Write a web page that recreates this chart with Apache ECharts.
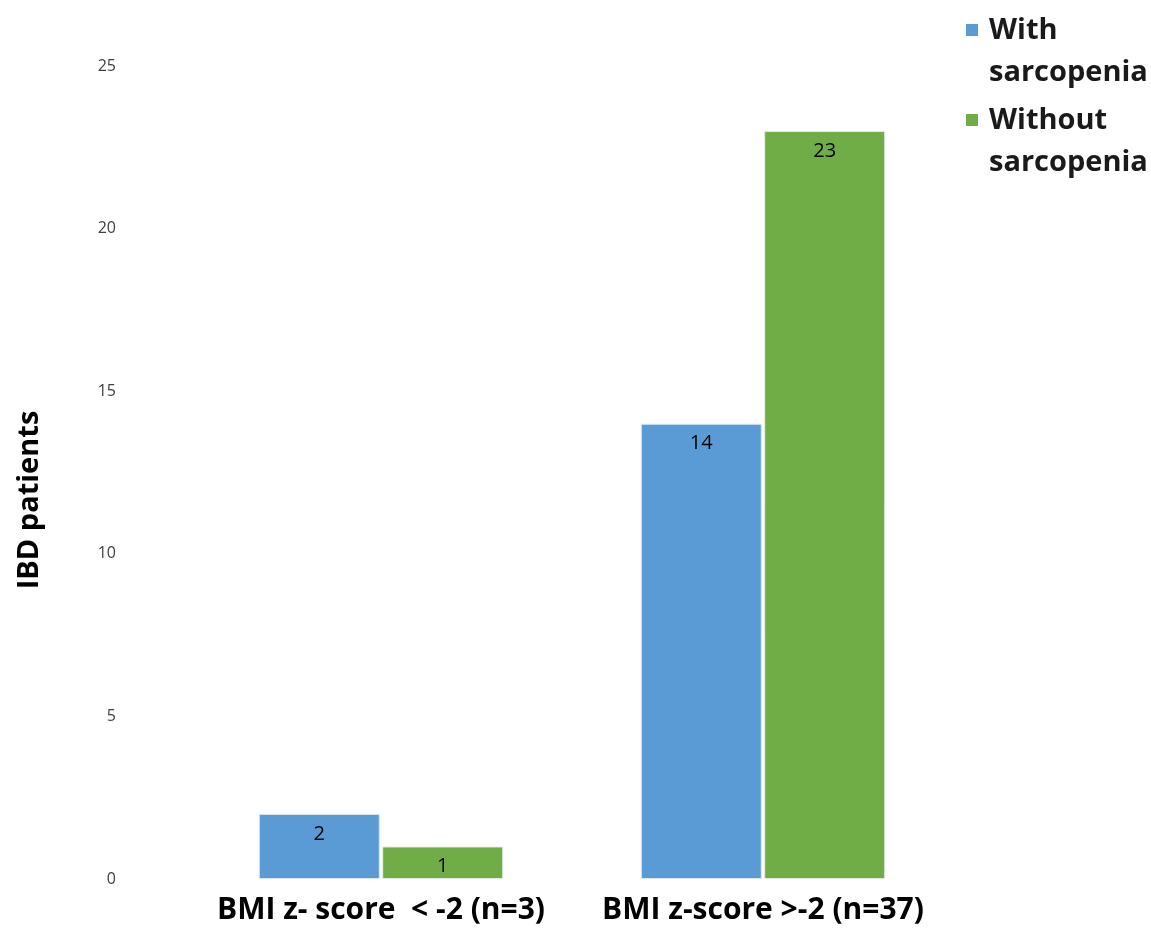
<!DOCTYPE html>
<html>
<head>
<meta charset="utf-8">
<script src="https://cdn.jsdelivr.net/npm/echarts@6/dist/echarts.min.js"></script>
<style>
  html, body { margin: 0; padding: 0; background: #fff; }
  #chart { width: 1151px; height: 930px; }
</style>
</head>
<body>
<div id="chart"></div>
<script>
// BMI groups and patient counts by sarcopenia status
const categories = ['BMI z- score  < -2 (n=3)', 'BMI z-score >-2 (n=37)'];
const withSarcopenia = [2, 14];
const withoutSarcopenia = [1, 23];
const seriesNames = ['With\nsarcopenia', 'Without\nsarcopenia'];
const seriesColors = ['#5B9BD5', '#70AD47'];
const yTicks = { min: 0, max: 25, interval: 5 };

const FONT = '"Open Sans", "Noto Sans", sans-serif';
const chart = echarts.init(document.getElementById('chart'));

const barLabel = {
  show: true,
  position: 'insideTop',
  distance: 10,
  color: '#000',
  fontSize: 20,
  fontFamily: FONT
};

// Legend drawn as graphic so the swatch sits beside the first text line
const legendGraphics = [];
seriesNames.forEach((name, i) => {
  const top = 10 + i * 90;
  legendGraphics.push({
    type: 'rect',
    left: 966, top: top + 14,
    shape: { width: 12, height: 12 },
    style: { fill: seriesColors[i] }
  });
  legendGraphics.push({
    type: 'text',
    left: 989, top: top,
    style: {
      text: name,
      font: 'bold 29px ' + FONT,
      lineHeight: 42,
      fill: '#1a1a1a'
    }
  });
});

chart.setOption({
  animation: false,
  grid: { left: 190, right: 197, top: 66, bottom: 51, containLabel: false },
  xAxis: {
    type: 'category',
    data: categories,
    axisLine: { show: false },
    axisTick: { show: false },
    axisLabel: {
      interval: 0,
      color: '#000',
      fontSize: 30,
      fontWeight: 'bold',
      fontFamily: FONT,
      margin: 16
    }
  },
  yAxis: {
    type: 'value',
    min: yTicks.min,
    max: yTicks.max,
    interval: yTicks.interval,
    axisLine: { show: false },
    axisTick: { show: false },
    splitLine: { show: false },
    axisLabel: {
      color: '#404040',
      fontSize: 16,
      fontFamily: FONT,
      margin: 74
    }
  },
  graphic: [
    {
      type: 'text',
      x: 30,
      y: 500,
      rotation: Math.PI / 2,
      style: {
        text: 'IBD patients',
        font: 'bold 29px ' + FONT,
        fill: '#000',
        align: 'center',
        verticalAlign: 'middle'
      }
    }
  ].concat(legendGraphics),
  series: [
    {
      name: seriesNames[0],
      type: 'bar',
      data: withSarcopenia,
      barWidth: 121,
      barGap: '2%',
      itemStyle: { color: seriesColors[0], borderColor: '#dce9f5', borderWidth: 1 },
      label: barLabel
    },
    {
      name: seriesNames[1],
      type: 'bar',
      data: withoutSarcopenia,
      barWidth: 121,
      barGap: '2%',
      itemStyle: { color: seriesColors[1], borderColor: '#e2eedb', borderWidth: 1 },
      label: barLabel
    }
  ]
});
</script>
</body>
</html>
